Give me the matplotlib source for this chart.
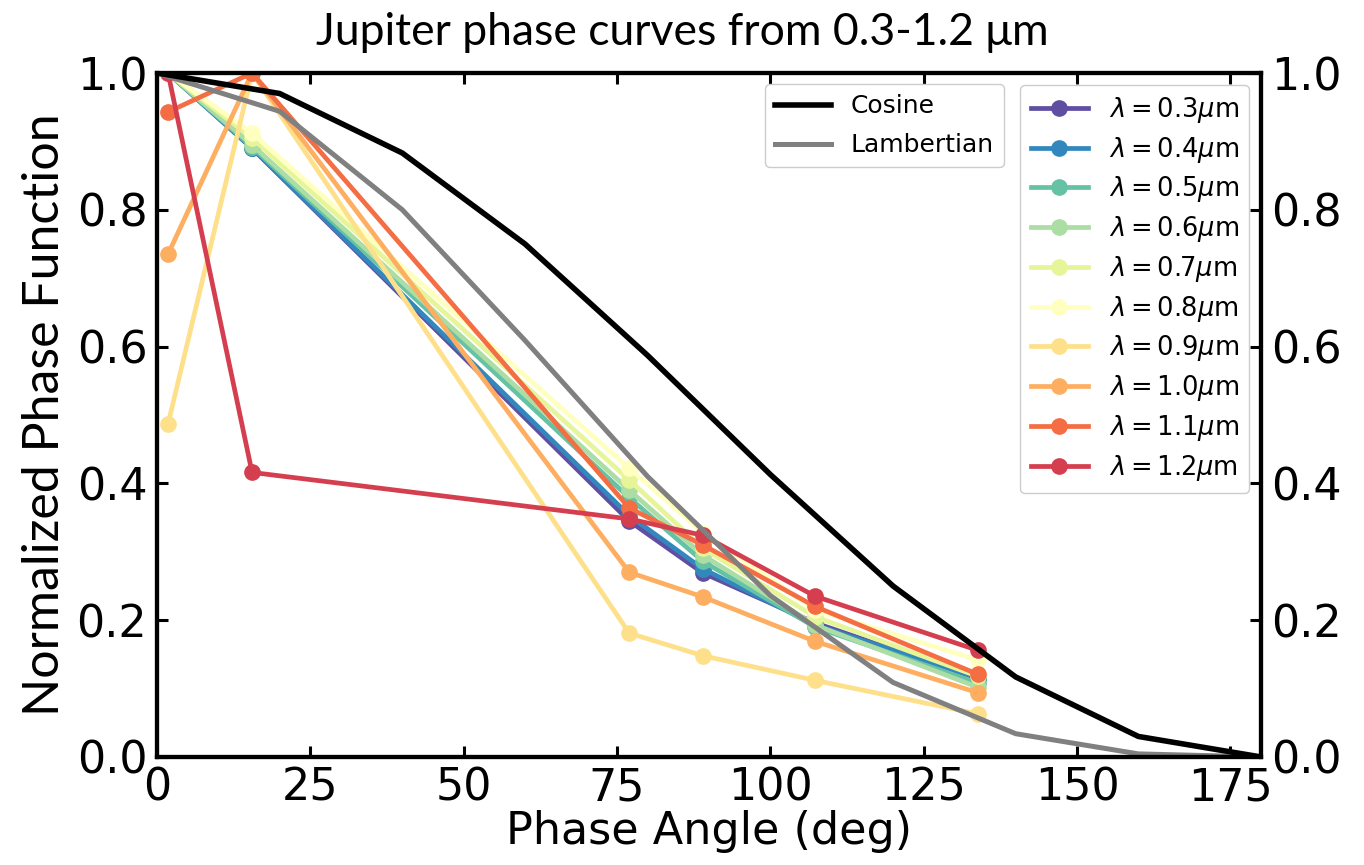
import matplotlib
matplotlib.use("Agg")
import matplotlib.pyplot as plt

# Reference curves sampled every 20 degrees
ref_angles = [0, 20, 40, 60, 80, 100, 120, 140, 160, 180]
cosine = [1.0, 0.970, 0.883, 0.750, 0.587, 0.413, 0.250, 0.117, 0.030, 0.0]
lambertian = [1.0, 0.944, 0.800, 0.609, 0.410, 0.236, 0.109, 0.034, 0.0045, 0.0]

# Observed phase angles (deg)
phase_angles = [1.8, 15.5, 77.0, 89.0, 107.3, 133.8]

wavelengths = ["0.3", "0.4", "0.5", "0.6", "0.7", "0.8", "0.9", "1.0", "1.1", "1.2"]
phase_w03 = [1.0, 0.890, 0.345, 0.269, 0.196, 0.115]
phase_w04 = [1.0, 0.890, 0.353, 0.275, 0.193, 0.116]
phase_w05 = [1.0, 0.892, 0.379, 0.286, 0.190, 0.108]
phase_w06 = [1.0, 0.895, 0.390, 0.295, 0.193, 0.102]
phase_w07 = [1.0, 0.905, 0.405, 0.305, 0.205, 0.118]
phase_w08 = [1.0, 0.912, 0.422, 0.328, 0.215, 0.142]
phase_w09 = [0.487, 1.0, 0.181, 0.148, 0.112, 0.063]
phase_w10 = [0.735, 1.0, 0.270, 0.234, 0.169, 0.094]
phase_w11 = [0.943, 1.0, 0.364, 0.310, 0.220, 0.121]
phase_w12 = [1.0, 0.416, 0.348, 0.324, 0.235, 0.156]

series = [phase_w03, phase_w04, phase_w05, phase_w06, phase_w07,
          phase_w08, phase_w09, phase_w10, phase_w11, phase_w12]
colors = ["#5e4fa2", "#3288bd", "#66c2a5", "#abdda4", "#e6f598",
          "#ffffbf", "#fee08b", "#fdae61", "#f46d43", "#d53e4f"]

x_ticks = [0, 25, 50, 75, 100, 125, 150, 175]
y_ticks = [0.0, 0.2, 0.4, 0.6, 0.8, 1.0]

fig = plt.figure(figsize=(13.64, 8.65), dpi=100)
ax = fig.add_axes([0.1151, 0.1249, 0.8094, 0.7907])

for wl, vals, c in zip(wavelengths, series, colors):
    ax.plot(phase_angles, vals, "-o", color=c, lw=3.4, ms=11,
            label=r"$\lambda = %s\mu$m" % wl)

l_lam, = ax.plot(ref_angles, lambertian, color="grey", lw=3.6)
l_cos, = ax.plot(ref_angles, cosine, color="black", lw=4)

ax.set_xlim(0, 180)
ax.set_ylim(0, 1)
ax.set_xticks(x_ticks)
ax.set_yticks(y_ticks)
ax.set_yticklabels([f"{v:.1f}" for v in y_ticks])

for sp in ax.spines.values():
    sp.set_linewidth(3)
ax.tick_params(direction="in", length=8, width=2.2, labelsize=32,
               top=True, pad=7)

ax2 = ax.twinx()
ax2.set_ylim(0, 1)
ax2.set_yticks(y_ticks)
ax2.set_yticklabels([f"{v:.1f}" for v in y_ticks])
ax2.tick_params(direction="in", length=8, width=2.2, labelsize=32, pad=7)
for sp in ax2.spines.values():
    sp.set_linewidth(3)

ax.set_xlabel("Phase Angle (deg)", fontsize=32, labelpad=0)
ax.set_ylabel("Normalized Phase Function", fontsize=36, family="Lato", labelpad=6)
fig.suptitle("Jupiter phase curves from 0.3-1.2 μm", fontsize=32, family="Lato",
             x=0.5, y=0.948, va="baseline")

leg1 = ax2.legend(handles=ax.get_lines()[:10], loc="upper right", fontsize=18.5,
                  handlelength=2.25, labelspacing=0.38, borderaxespad=0.45,
                  handletextpad=0.8, framealpha=1)
ax2.add_artist(leg1)
ax2.legend([l_cos, l_lam], ["Cosine", "Lambertian"], loc="upper right",
           bbox_to_anchor=(0.7775, 1.0), fontsize=18, handlelength=2.25,
           labelspacing=0.6, borderaxespad=0.45, handletextpad=0.8,
           framealpha=1)

fig.savefig("out.png", dpi=100)
